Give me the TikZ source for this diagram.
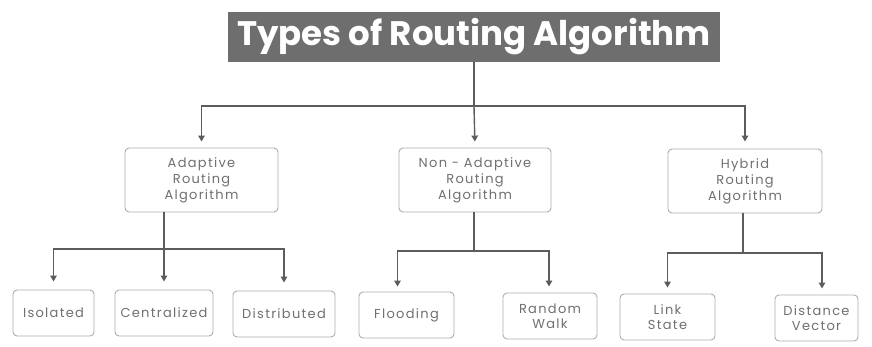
\documentclass[tikz,border=0pt]{standalone}
\usepackage{fontspec}
\setmainfont{Poppins}
\newfontfamily\spacedfont[LetterSpace=10]{Poppins}
\usetikzlibrary{arrows.meta}
\definecolor{linegray}{HTML}{5C5C5C}
\definecolor{boxgray}{HTML}{ADADAD}
\definecolor{textgray}{HTML}{707070}
\definecolor{titlebg}{HTML}{6E6E6E}
\tikzset{
  catbox/.style={draw=boxgray, line width=0.9pt, rounded corners=4pt, fill=white,
    text=textgray, align=center, font=\spacedfont\fontsize{13}{16}\selectfont, inner sep=0pt},
  leafbox/.style={draw=boxgray, line width=0.9pt, rounded corners=4pt, fill=white,
    text=textgray, align=center, font=\spacedfont\fontsize{13}{15.5}\selectfont, inner sep=0pt,
    minimum height=46pt},
  conn/.style={draw=linegray, line width=1.4pt},
  arr/.style={conn, -{Triangle[length=6pt,width=6.5pt]}}
}
\begin{document}
\begin{tikzpicture}[x=1pt,y=-1pt]
  \useasboundingbox (0,0) rectangle (872,347);

  % title banner
  \node[fill=titlebg, minimum width=492pt, minimum height=50pt, inner sep=0pt,
        text=white, font=\fontsize{34}{35}\selectfont\bfseries]
    (title) at (474,37) {Types of Routing Algorithm};

  % first level
  \node[catbox, minimum width=153pt, minimum height=64pt] (ad) at (201.5,180)
    {Adaptive\\Routing\\Algorithm};
  \node[catbox, minimum width=152pt, minimum height=64pt] (na) at (475,180)
    {Non - Adaptive\\Routing\\Algorithm};
  \node[catbox, minimum width=154pt, minimum height=64pt] (hy) at (745,181)
    {Hybrid\\Routing\\Algorithm};

  % second level
  \node[leafbox, minimum width=81pt]  (iso) at (53.5,313) {Isolated};
  \node[leafbox, minimum width=98pt]  (cen) at (164,313)  {Centralized};
  \node[leafbox, minimum width=102pt] (dis) at (284,314)  {Distributed};
  \node[leafbox, minimum width=95pt]  (fl)  at (406.5,315) {Flooding};
  \node[leafbox, minimum width=94pt]  (rw)  at (550,316)  {Random\\Walk};
  \node[leafbox, minimum width=95pt]  (ls)  at (667.5,317) {Link\\State};
  \node[leafbox, minimum width=83pt]  (dv)  at (816.5,318) {Distance\\Vector};

  % junction points
  \coordinate (j1) at (474,106);
  \coordinate (j2) at (164,249);
  \coordinate (j3) at (474,251);
  \coordinate (j4) at (743,253);

  % title to categories
  \draw[conn] (title.south) -- (j1);
  \draw[arr, shorten >=6pt] (j1) -| (ad.north);
  \draw[arr, shorten >=6pt] (j1) -- (na.north);
  \draw[arr, shorten >=7pt] (j1) -| (hy.north);

  % adaptive routing
  \draw[conn] (ad.south -| j2) -- (j2);
  \draw[arr, shorten >=8pt] (j2) -| (iso.north);
  \draw[arr, shorten >=8pt] (j2) -- (cen.north);
  \draw[arr, shorten >=8pt] (j2) -| (dis.north);

  % non-adaptive routing
  \draw[conn] (na.south -| j3) -- (j3);
  \draw[arr, shorten >=5pt] (j3) -| ([xshift=-9pt]fl.north);
  \draw[arr, shorten >=6pt] (j3) -| ([xshift=-1pt]rw.north);

  % hybrid routing
  \draw[conn] (hy.south -| j4) -- (j4);
  \draw[arr, shorten >=6pt] (j4) -| (ls.north);
  \draw[arr, shorten >=6pt] (j4) -| ([xshift=5.5pt]dv.north);
\end{tikzpicture}
\end{document}
